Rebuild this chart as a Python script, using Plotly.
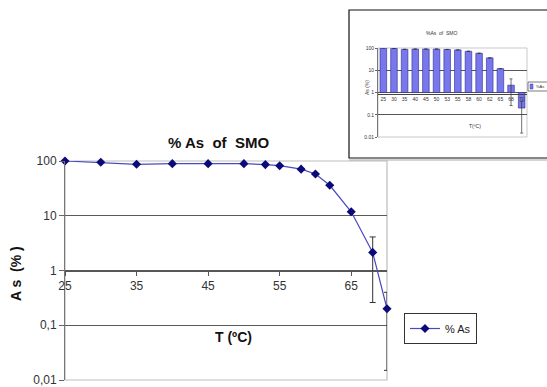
import plotly.graph_objects as go

# ---- data ----
T = [25, 30, 35, 40, 45, 50, 53, 55, 58, 60, 62, 65, 68, 70]
As_pct = [100, 94.7, 87, 89.5, 89.5, 89.5, 86, 82, 71, 58, 36, 11.8, 2.14, 0.2]
err_plus = [0, 0, 0, 0, 0, 0, 0, 0, 0, 0, 0, 0, 1.96, 0.2]
err_minus = [0, 0, 0, 0, 0, 0, 0, 0, 0, 0, 0, 0, 1.88, 0.185]
y_tickvals = [0.01, 0.1, 1, 10, 100]
y_ticktext = ["0,01", "0,1", "1", "10", "100"]
x_tickvals = [25, 35, 45, 55, 65]

W, H = 547, 387
def px(x): return x / W
def py(y): return 1 - y / H

FONT = "Liberation Sans, Arial, sans-serif"
fig = go.Figure()

# main line chart
fig.add_trace(go.Scatter(
    x=T, y=As_pct, mode="lines+markers", name="% As",
    line=dict(color="#4a4ac0", width=1.2),
    marker=dict(symbol="diamond", size=7, color="#0a0a78"),
    error_y=dict(type="data", symmetric=False, array=err_plus, arrayminus=err_minus,
                 color="#333333", thickness=1, width=3),
    cliponaxis=False, xaxis="x", yaxis="y",
))

# inset bar chart (same data)
base = [1] * len(As_pct)
fig.add_trace(go.Bar(
    x=[str(t) for t in T], y=[v - 1 for v in As_pct], base=base, name="%As",
    marker=dict(color="#7878ec", line=dict(color="#2a2a90", width=0.6)),
    error_y=dict(type="data", symmetric=False, array=err_plus, arrayminus=err_minus,
                 color="#333333", thickness=0.7, width=1.5),
    xaxis="x2", yaxis="y2", showlegend=False, width=0.62,
))

def ann(text, x, y, size, angle=0, color="#111", xanchor="center"):
    return dict(text=text, x=px(x), y=py(y), xref="paper", yref="paper",
                xanchor=xanchor, yanchor="middle", showarrow=False, textangle=angle,
                font=dict(size=size, family=FONT, color=color))

fig.update_layout(
    width=W, height=H, autosize=False,
    margin=dict(l=0, r=0, t=0, b=0),
    paper_bgcolor="white", plot_bgcolor="white",
    font=dict(family=FONT, color="#222"),
    showlegend=True,
    legend=dict(x=px(404), y=py(313), xanchor="left", yanchor="top",
                bordercolor="#333", borderwidth=1, bgcolor="white",
                font=dict(size=11, family=FONT), itemwidth=30),
    xaxis=dict(domain=[px(65), px(387)], range=[25, 70], anchor="free",
               position=py(270.5), tickvals=x_tickvals, ticks="outside",
               ticklen=4, tickcolor="#555", showgrid=False, zeroline=False,
               showline=True, linecolor="#555", linewidth=1.3, automargin=False,
               tickfont=dict(size=12, family=FONT, color="#333")),
    yaxis=dict(domain=[py(380), py(161)], type="log", range=[-2, 2], anchor="x",
               tickvals=y_tickvals, ticktext=y_ticktext, ticks="outside",
               ticklen=5, tickcolor="#666", showgrid=True, gridcolor="#5a5a5a",
               gridwidth=1.3, showline=True, linecolor="#777", zeroline=False,
               automargin=False, ticklabeloverflow="allow",
               tickfont=dict(size=12, family=FONT, color="#333")),
    xaxis2=dict(domain=[px(378), px(527)], type="category", anchor="free",
                position=py(94), showgrid=False, showline=True, linecolor="#444",
                linewidth=0.8, ticks="", automargin=False,
                tickfont=dict(size=5, family=FONT, color="#333"),
                zeroline=False),
    yaxis2=dict(domain=[py(137), py(48)], type="log", range=[-2, 2], anchor="x2",
                tickvals=y_tickvals, ticktext=["0.01", "0.1", "1", "10", "100"],
                ticks="outside", ticklen=2, tickcolor="#666", automargin=False,
                showgrid=True, gridcolor="#555", gridwidth=0.8, showline=True,
                linecolor="#777", linewidth=0.8, zeroline=False,
                tickfont=dict(size=5, family=FONT, color="#333")),
    bargap=0.4,
    shapes=[
        # main plot light border
        dict(type="rect", xref="x domain", yref="y domain", x0=0, x1=1, y0=0, y1=1,
             line=dict(color="#bdbdbd", width=1.2), layer="below"),
        # inset outer frame
        dict(type="rect", xref="paper", yref="paper", x0=px(349), x1=px(549),
             y0=py(158), y1=py(10), line=dict(color="#111", width=1.2), layer="below"),
        dict(type="line", xref="paper", yref="paper", x0=px(349), x1=px(549),
             y0=py(160), y1=py(160), line=dict(color="#aaa", width=1)),
        # inset plot border
        dict(type="rect", xref="x2 domain", yref="y2 domain", x0=0, x1=1, y0=0, y1=1,
             line=dict(color="#bbb", width=0.8), layer="below"),
        # inset legend box
        dict(type="rect", xref="paper", yref="paper", x0=px(528), x1=px(549),
             y0=py(91), y1=py(82), line=dict(color="#444", width=0.7),
             fillcolor="white"),
        dict(type="rect", xref="paper", yref="paper", x0=px(530), x1=px(533),
             y0=py(89), y1=py(84), line=dict(color="#3a3aa0", width=0.5),
             fillcolor="#7878ec"),
    ],
    annotations=[
        ann("<b>% As  of  SMO</b>", 218, 142, 15),
        ann("<b>A s  (% )</b>", 16, 274, 14, angle=-90),
        ann("<b>T (ºC)</b>", 233, 337, 14),
        ann("%As  of  SMO", 442, 33, 5, color="#333"),
        ann("As (%)", 367, 88, 5, angle=-90, color="#333"),
        ann("T(ºC)", 475, 126, 5, color="#333"),
        ann("%As", 534, 86.5, 4, color="#333", xanchor="left"),
    ],
)

fig.write_html("out.html")
